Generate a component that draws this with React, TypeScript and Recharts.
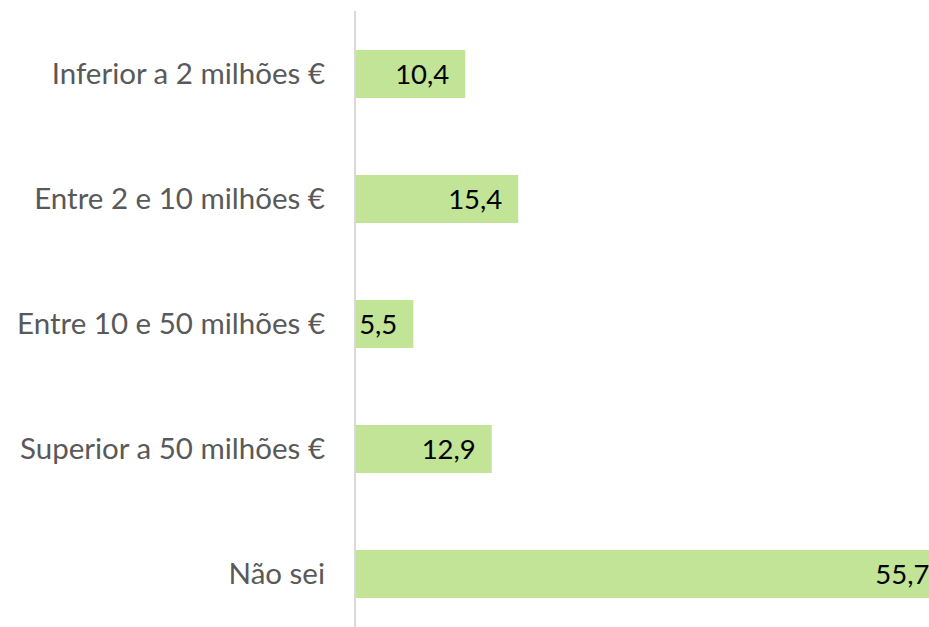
import { Bar, BarChart, LabelList, XAxis, YAxis } from "recharts";

const categories = [
  "Inferior a 2 milhões €",
  "Entre 2 e 10 milhões €",
  "Entre 10 e 50 milhões €",
  "Superior a 50 milhões €",
  "Não sei",
];
const values = [10.4, 15.4, 5.5, 12.9, 55.7];

const data = categories.map((name, i) => ({ name, value: values[i] }));

const font = "Lato, 'Open Sans', sans-serif";

export default function App() {
  return (
    <div
      style={{
        position: "fixed",
        top: 0,
        left: 0,
        width: 929,
        height: 627,
        overflow: "hidden",
        background: "#fff",
        fontFamily: font,
      }}
    >
      <BarChart
        width={991}
        height={636}
        data={data}
        layout="vertical"
        margin={{ top: 11, right: 0, bottom: 0, left: 0 }}
        barCategoryGap={0}
      >
        <XAxis type="number" domain={[0, 60]} hide />
        <YAxis
          type="category"
          dataKey="name"
          width={355}
          tickLine={false}
          tickSize={0}
          tickMargin={30}
          axisLine={{ stroke: "#d9d9d9", strokeWidth: 2 }}
          tick={{ fill: "#595959", fontSize: 29.5, fontFamily: font }}
          interval={0}
        />
        <Bar dataKey="value" fill="#c1e497" barSize={48} isAnimationActive={false}>
          <LabelList
            dataKey="value"
            position="insideRight"
            offset={16}
            fill="#000"
            fontSize={27.5}
            fontFamily={font}
            formatter={(v: number) => v.toFixed(1).replace(".", ",")}
          />
        </Bar>
      </BarChart>
    </div>
  );
}
